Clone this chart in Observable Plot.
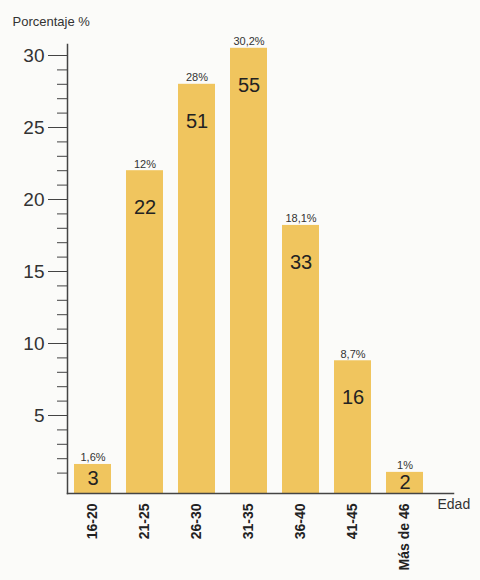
<!DOCTYPE html>
<html><head><meta charset="utf-8">
<script src="https://cdn.jsdelivr.net/npm/d3@7"></script>
<script src="https://cdn.jsdelivr.net/npm/@observablehq/plot@0.6"></script>
<style>body{margin:0;background:#fbfbf9;}</style>
</head><body><div id="chart"></div>
<script>
const edades = ["16-20", "21-25", "26-30", "31-35", "36-40", "41-45", "Más de 46"];
const alturas = [1.6, 22, 28, 30.5, 18.2, 8.8, 1.05];
const porcentajes = ["1,6%", "12%", "28%", "30,2%", "18,1%", "8,7%", "1%"];
const cantidades = [3, 22, 51, 55, 33, 16, 2];
const ticksMayores = [5, 10, 15, 20, 25, 30];
const ticksMenores = [1,2,3,4,6,7,8,9,11,12,13,14,16,17,18,19,21,22,23,24,26,27,28,29];

const data = edades.map((e, i) => ({edad: e, alto: alturas[i], pct: porcentajes[i], n: cantidades[i]}));

const chart = Plot.plot({
  width: 480, height: 580,
  marginTop: 44, marginLeft: 67, marginRight: 27, marginBottom: 87,
  style: {background: "transparent", fontFamily: "'Liberation Sans', Arial, sans-serif", color: "#444"},
  x: {domain: edades, range: [67, 430], paddingInner: 0.29, paddingOuter: 0.135},
  y: {domain: [0, 30], range: [487, 55]},
  marks: [
    Plot.barY(data, {x: "edad", y: "alto", fill: "#f0c55e", insetBottom: -6}),
    Plot.frame({anchor: "left", stroke: "#444", strokeWidth: 1.5}),
    Plot.frame({anchor: "bottom", stroke: "#444", strokeWidth: 1.5}),
    Plot.axisY({ticks: ticksMenores, tickSize: 10, tickFormat: () => "", label: null, strokeWidth: 1}),
    Plot.axisY({ticks: ticksMayores, tickSize: 19, tickPadding: 4, fontSize: 19, label: null, strokeWidth: 1, fill: "#333"}),
    Plot.axisX({tickRotate: -90, tickSize: 0, tickPadding: 10, fontSize: 14, fontWeight: "bold", label: null, fill: "#222"}),
    Plot.text(data, {x: "edad", y: "alto", text: "pct", lineAnchor: "bottom", dy: -3, fontSize: 11, fill: "#333"}),
    Plot.text(data.filter(d => d.alto > 5), {x: "edad", y: "alto", text: d => String(d.n), dy: 37, fontSize: 20, fill: "#222"}),
    Plot.text(data.filter(d => d.alto <= 5), {x: "edad", y: d => d.alto / 2, text: d => String(d.n), dy: 3, fontSize: 20, fill: "#222"}),
    Plot.text(["Edad"], {frameAnchor: "bottom-right", textAnchor: "start", dx: -16, dy: 15, fontSize: 14, fill: "#333"}),
    Plot.text(["Porcentaje %"], {frameAnchor: "top-left", textAnchor: "start", dx: -55, dy: -28, fontSize: 13, fill: "#333"})
  ]
});
document.getElementById("chart").append(chart);
</script>
</body></html>
